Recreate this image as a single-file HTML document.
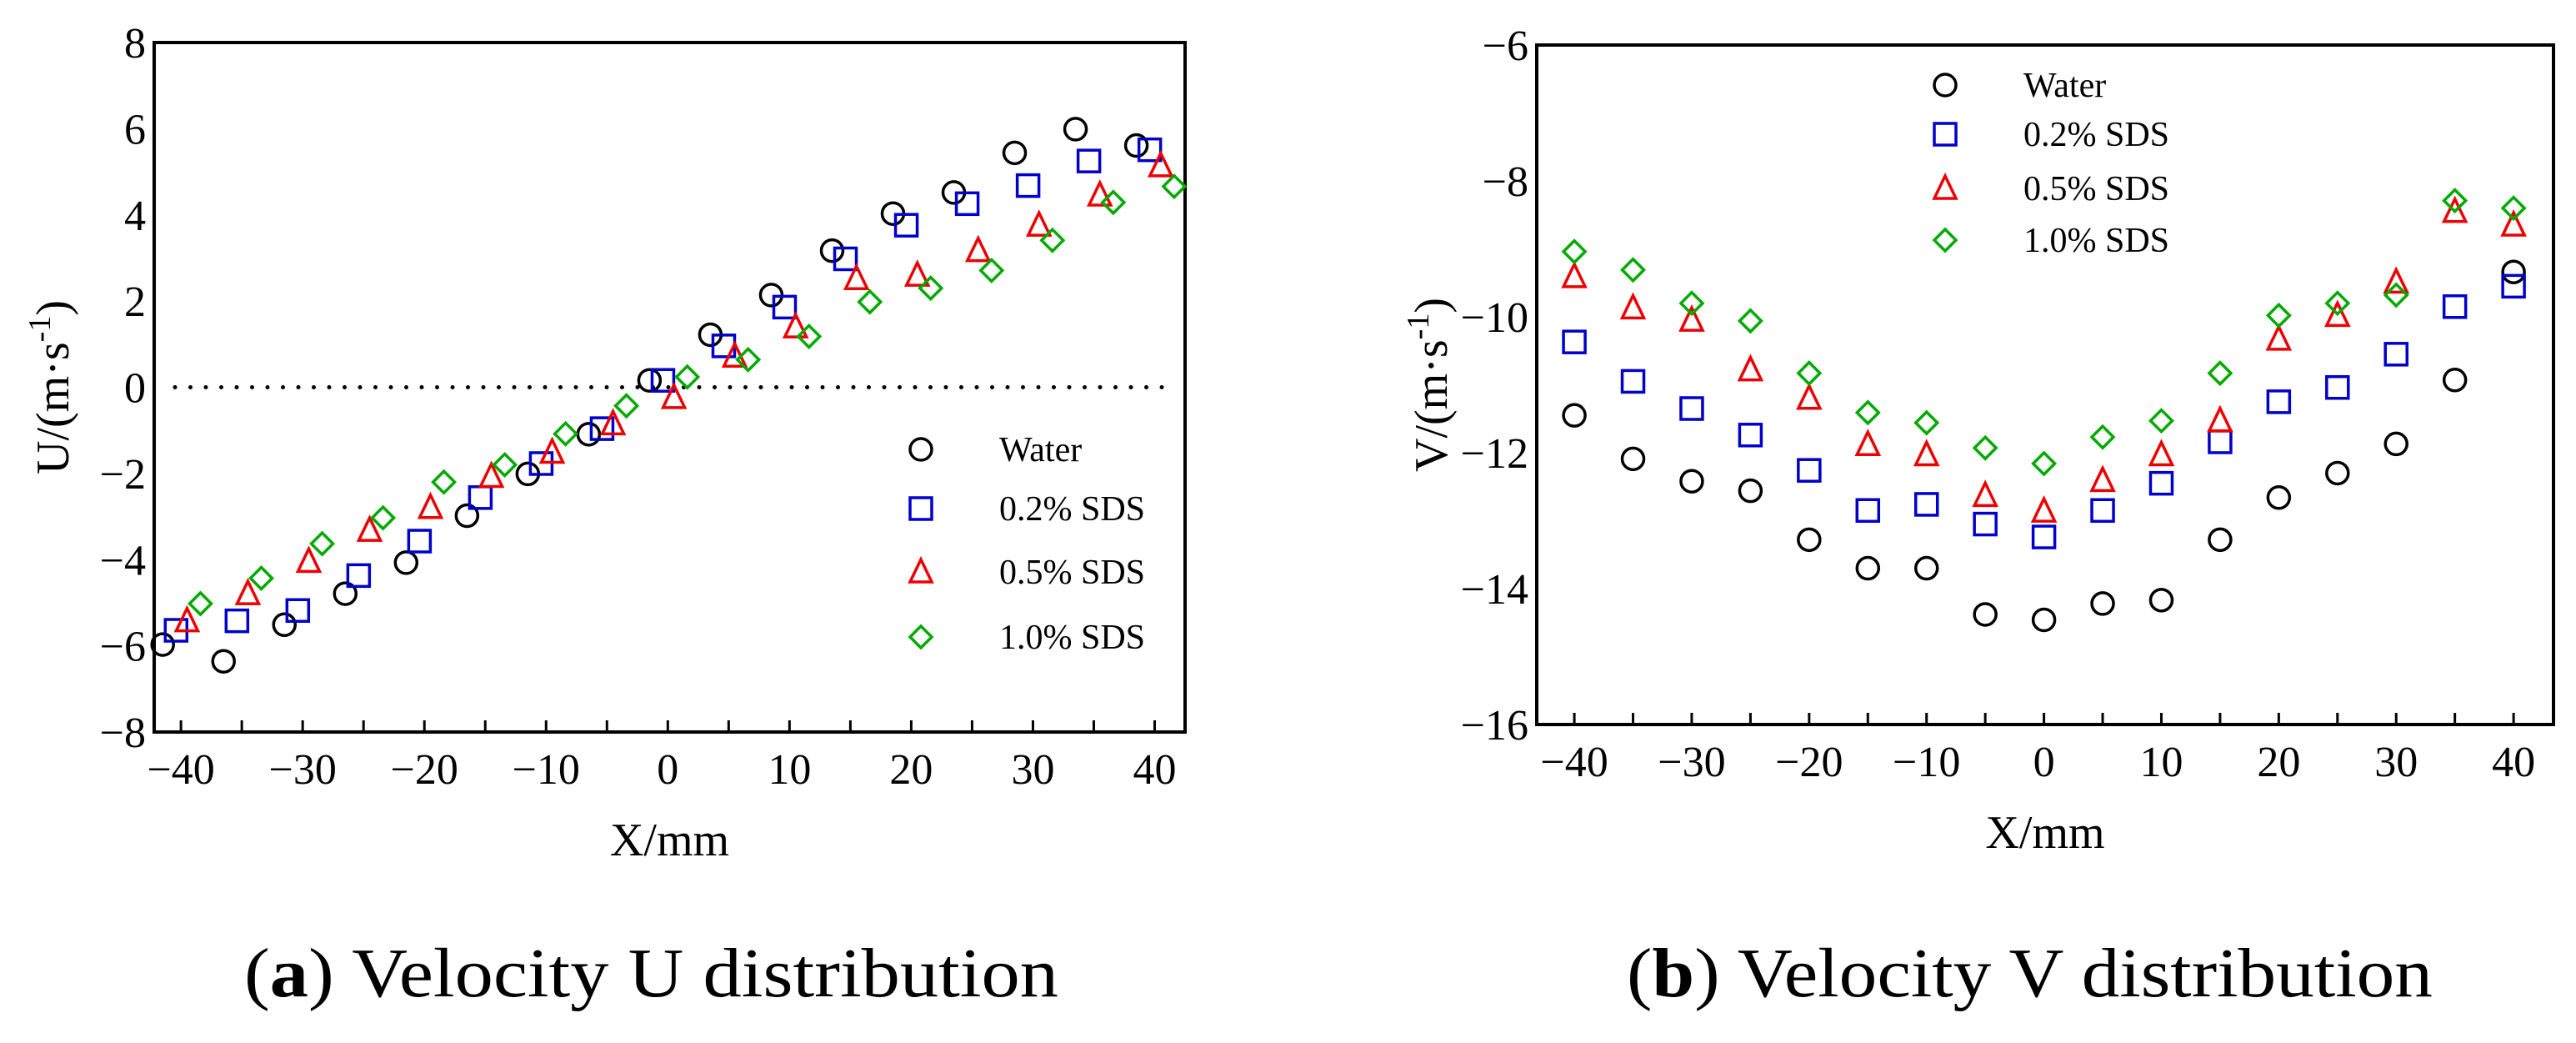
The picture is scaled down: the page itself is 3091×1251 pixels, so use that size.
<!DOCTYPE html>
<html><head><meta charset="utf-8"><style>
html,body{margin:0;padding:0;background:#fff;}
svg{display:block;font-family:"Liberation Serif",serif;}
</style></head><body>
<svg id="fig" width="3091" height="1251" viewBox="0 0 3091 1251" xmlns="http://www.w3.org/2000/svg">
<g id="plotA"></g>
<g id="plotB"></g>
<text x="293" y="1195" font-size="84" textLength="977" lengthAdjust="spacingAndGlyphs">(<tspan font-weight="bold">a</tspan>) Velocity U distribution</text>
<text x="1952" y="1195" font-size="84" textLength="967" lengthAdjust="spacingAndGlyphs">(<tspan font-weight="bold">b</tspan>) Velocity V distribution</text>
</svg>
<script>
const seriesNames = ["Water","0.2% SDS","0.5% SDS","1.0% SDS"];
const seriesColors = ["#000","#0000cc","#ee0000","#00aa00"];
const seriesShapes = ["circle","square","triangle","diamond"];
// Chart A data
const uXWater = [-41.5,-36.5,-31.5,-26.5,-21.5,-16.5,-11.5,-6.5,-1.5,3.5,8.5,13.5,18.5,23.5,28.5,33.5,38.5];
const uXS02 = [-40.4,-35.4,-30.4,-25.4,-20.4,-15.4,-10.4,-5.4,-0.4,4.6,9.6,14.6,19.6,24.6,29.6,34.6,39.6];
const uXS05 = [-39.5,-34.5,-29.5,-24.5,-19.5,-14.5,-9.5,-4.5,0.5,5.5,10.5,15.5,20.5,25.5,30.5,35.5,40.5];
const uXS10 = [-38.4,-33.4,-28.4,-23.4,-18.4,-13.4,-8.4,-3.4,1.6,6.6,11.6,16.6,21.6,26.6,31.6,36.6,41.6];
const uWater = [-5.97,-6.36,-5.51,-4.79,-4.07,-2.98,-2.01,-1.09,0.16,1.22,2.14,3.17,4.03,4.52,5.44,5.99,5.61];
const uS02 = [-5.64,-5.42,-5.18,-4.37,-3.57,-2.56,-1.77,-0.96,0.16,0.96,1.86,2.98,3.76,4.26,4.68,5.25,5.51];
const uS05 = [-5.42,-4.79,-4.04,-3.32,-2.79,-2.07,-1.51,-0.85,-0.24,0.72,1.40,2.52,2.60,3.17,3.76,4.46,5.14];
const uS10 = [-5.02,-4.43,-3.63,-3.03,-2.20,-1.80,-1.08,-0.43,0.24,0.64,1.18,1.98,2.30,2.71,3.41,4.29,4.66];
const uXTicks = [-40,-30,-20,-10,0,10,20,30,40];
const uXMinor = [-40,-35,-30,-25,-20,-15,-10,-5,0,5,10,15,20,25,30,35,40];
const uYTicks = [8,6,4,2,0,-2,-4,-6,-8];
// Chart B data
const vX = [-40,-35,-30,-25,-20,-15,-10,-5,0,5,10,15,20,25,30,35,40];
const vWater = [-11.45,-12.09,-12.42,-12.56,-13.28,-13.70,-13.70,-14.38,-14.46,-14.22,-14.17,-13.28,-12.66,-12.30,-11.87,-10.93,-9.34];
const vS02 = [-10.37,-10.95,-11.35,-11.74,-12.26,-12.85,-12.76,-13.05,-13.24,-12.85,-12.45,-11.84,-11.25,-11.04,-10.55,-9.85,-9.55];
const vS05 = [-9.41,-9.87,-10.05,-10.78,-11.20,-11.88,-12.03,-12.63,-12.86,-12.41,-12.03,-11.53,-10.33,-9.98,-9.49,-8.45,-8.65];
const vS10 = [-9.04,-9.31,-9.80,-10.06,-10.83,-11.41,-11.56,-11.93,-12.16,-11.77,-11.53,-10.83,-9.98,-9.80,-9.68,-8.29,-8.40];
const vXTicks = [-40,-30,-20,-10,0,10,20,30,40];
const vXMinor = [-40,-35,-30,-25,-20,-15,-10,-5,0,5,10,15,20,25,30,35,40];
const vYTicks = [-6,-8,-10,-12,-14,-16];

const NS="http://www.w3.org/2000/svg";
function mk(tag,attrs,parent){const e=document.createElementNS(NS,tag);for(const k in attrs)e.setAttribute(k,attrs[k]);parent.appendChild(e);return e;}
function marker(g,shape,cx,cy,color){
  const r=13;let e;
  if(shape==="circle")e=mk("circle",{cx:cx,cy:cy,r:r},g);
  else if(shape==="square")e=mk("rect",{x:cx-r,y:cy-r,width:2*r,height:2*r},g);
  else if(shape==="triangle")e=mk("polygon",{points:`${cx},${cy-r-2} ${cx+r},${cy+r-1} ${cx-r},${cy+r-1}`},g);
  else e=mk("polygon",{points:`${cx},${cy-r} ${cx+r},${cy} ${cx},${cy+r} ${cx-r},${cy}`},g);
  e.setAttribute("fill","none");e.setAttribute("stroke",color);e.setAttribute("stroke-width","3.5");
  return e;
}
function chart(g,o){
  const sx=v=>o.L+(v-o.x0)/(o.x1-o.x0)*(o.R-o.L);
  const sy=v=>o.B-(v-o.y0)/(o.y1-o.y0)*(o.B-o.T);
  const frame=mk("rect",{x:o.L,y:o.T,width:o.R-o.L,height:o.B-o.T,fill:"none",stroke:"#000","stroke-width":4},g);
  
  
  if(o.zero){const z=mk("line",{x1:o.L+25,x2:o.R-25,y1:sy(0),y2:sy(0),stroke:"#000","stroke-width":5,"stroke-dasharray":"0 18.5","stroke-linecap":"round"},g);
    
    }
  o.xMinor.forEach(t=>{const l=mk("line",{x1:sx(t),x2:sx(t),y1:o.B,y2:o.B-14,stroke:"#000","stroke-width":3},g);
    
    });
  o.xTicks.forEach(t=>{const tx=mk("text",{x:sx(t),y:o.B+62,"font-size":52,"text-anchor":"middle"},g);tx.textContent=(t<0?"\u2212"+(-t):t);
    
    });
  o.yTicks.forEach(t=>{const tx=mk("text",{x:o.L-10,y:sy(t)+18,"font-size":52,"text-anchor":"end"},g);tx.textContent=(t<0?"\u2212"+(-t):t);
    
    });
  const xt=mk("text",{x:(o.L+o.R)/2,y:o.B+148,"font-size":56,"text-anchor":"middle"},g);xt.textContent="X/mm";
  
  
  const yt=mk("text",{x:0,y:0,"font-size":56,"text-anchor":"middle",transform:`translate(${o.ylx},${(o.T+o.B)/2}) rotate(-90)`},g);
  yt.innerHTML=o.ylab+"/(m\u00b7s<tspan dy='-22' font-size='38'>-1</tspan><tspan dy='22'>)</tspan>";
  
  
  o.series.forEach((s,i)=>{
    const sg=mk("g",{},g);
    
    
    s.y.forEach((v,j)=>{const m=marker(sg,seriesShapes[i],sx(s.x[j]),sy(v),seriesColors[i]);
      
      });
    const lg=mk("g",{},g);
    
    
    const ly=o.legY[i];
    marker(lg,seriesShapes[i],o.legX,ly,seriesColors[i]);
    const lt=mk("text",{x:o.legX+94,y:ly+14,"font-size":42},lg);lt.textContent=seriesNames[i];
  });
}
chart(document.getElementById("plotA"),{L:185,R:1422,T:51,B:878,x0:-42.2,x1:42.5,y0:-8,y1:8,zero:true,
  xTicks:uXTicks,xMinor:uXMinor,yTicks:uYTicks,ylab:"U",ylx:82,legX:1105,legY:[539,610,686,764],
  series:[{x:uXWater,y:uWater},{x:uXS02,y:uS02},{x:uXS05,y:uS05},{x:uXS10,y:uS10}]});
chart(document.getElementById("plotB"),{L:1844,R:3064,T:54,B:869,x0:-43.2,x1:43.4,y0:-16,y1:-6,zero:false,
  xTicks:vXTicks,xMinor:vXMinor,yTicks:vYTicks,ylab:"V",ylx:1736,legX:2334,legY:[102,161,226,288],
  series:[{x:vX,y:vWater},{x:vX,y:vS02},{x:vX,y:vS05},{x:vX,y:vS10}]});
</script>
</body></html>
